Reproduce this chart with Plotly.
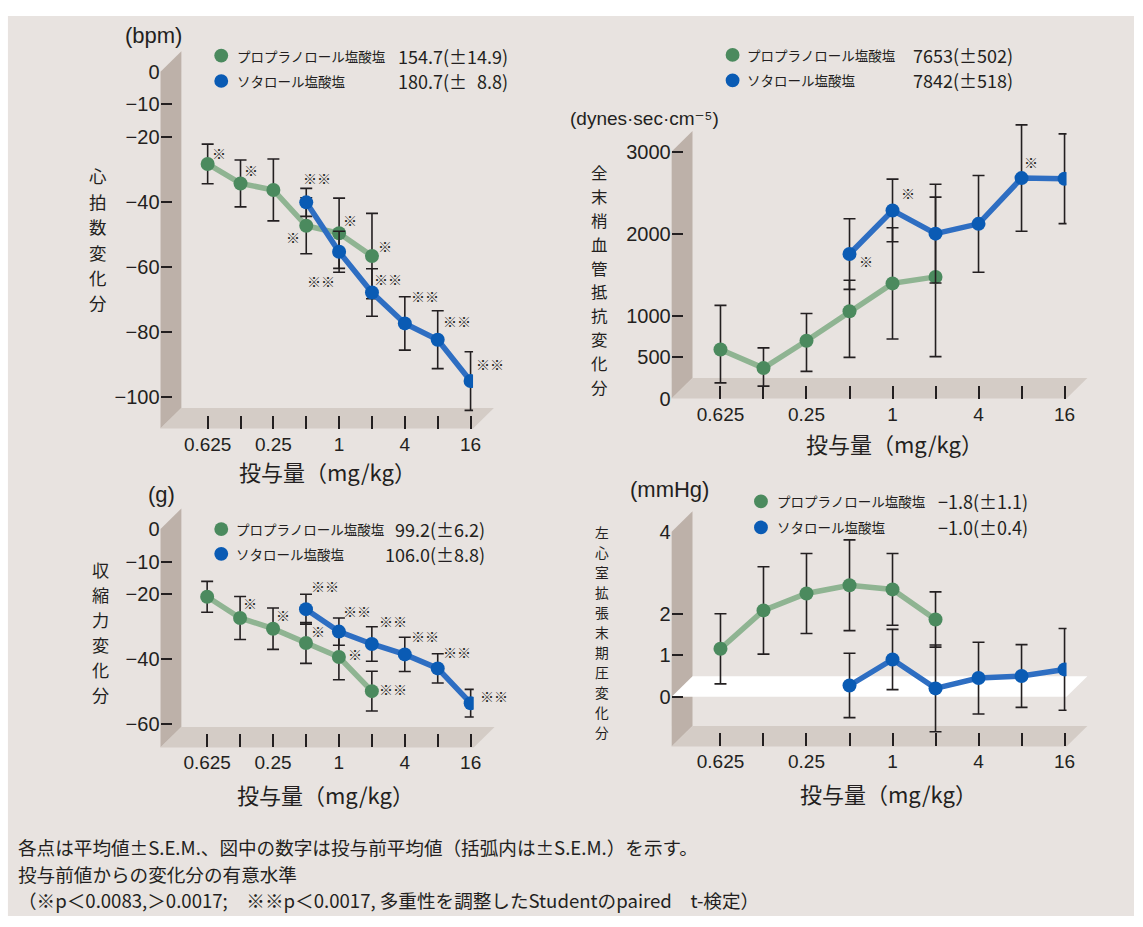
import plotly.graph_objects as go

# ---------------------------------------------------------------- data
dose_index = list(range(9))
dose_major = [0, 2, 4, 6, 8]
dose_minor = [1, 3, 5, 7]
dose_labels = ["0.625", "0.25", "1", "4", "16"]

drug_names = ["プロプラノロール塩酸塩", "ソタロール塩酸塩"]

# heart rate change (bpm)
hr_prop = [-28.3, -34.3, -36.3, -47.3, -49.6, -56.6, None, None, None]
hr_prop_sem = [6.1, 7.2, 9.5, 8.6, 10.8, 13.1, None, None, None]
hr_sota = [None, None, None, -40.1, -55.3, -67.8, -77.3, -82.3, -95.0]
hr_sota_sem = [None, None, None, 4.3, 6.3, 7.3, 8.2, 8.9, 9.0]
hr_prop_sig = ["※", "※", "", "※", "※", "※", "", "", ""]
hr_sota_sig = ["", "", "", "※※", "※※", "※※", "※※", "※※", "※※"]
hr_baseline = ["154.7(±14.9)", "180.7(±\u20078.8)"]
hr_ticks = [0, -10, -20, -40, -60, -80, -100]

# total peripheral resistance change (dynes·sec·cm-5)
tpr_prop = [596, 370, 703, 1061, 1399, 1478, None, None, None]
tpr_prop_up = [536, 246, 330, 377, 676, 969, None, None, None]
tpr_prop_down = [405, 219, 373, 560, 676, 969, None, None, None]
tpr_sota = [None, None, None, 1756, 2285, 2003, 2122, 2678, 2670]
tpr_sota_sem = [None, None, None, 429, 381, 600, 588, 646, 545]
tpr_prop_sig = ["", "", "", "", "", "", "", "", ""]
tpr_sota_sig = ["", "", "", "※", "※", "", "", "※", ""]
tpr_baseline = ["7653(±502)", "7842(±518)"]
tpr_ticks = [0, 500, 1000, 2000, 3000]

# contractile force change (g)
cf_prop = [-20.8, -27.3, -30.6, -35.0, -39.3, -49.8, None, None, None]
cf_prop_sem = [4.75, 6.6, 6.35, 6.25, 7.0, 6.1, None, None, None]
cf_sota = [None, None, None, -24.6, -31.5, -35.3, -38.5, -42.8, -53.5]
cf_sota_sem = [None, None, None, 4.6, 4.2, 5.3, 5.25, 4.5, 4.25]
cf_prop_sig = ["", "※", "※", "※", "※", "※※", "", "", ""]
cf_sota_sig = ["", "", "", "※※", "※※", "※※", "※※", "※※", "※※"]
cf_baseline = ["99.2(±6.2)", "106.0(±8.8)"]
cf_ticks = [0, -10, -20, -40, -60]

# left ventricular end-diastolic pressure change (mmHg)
lv_prop = [1.16, 2.09, 2.50, 2.70, 2.60, 1.87, None, None, None]
lv_prop_sem = [0.85, 1.06, 0.97, 1.10, 0.87, 0.67, None, None, None]
lv_sota = [None, None, None, 0.27, 0.90, 0.20, 0.45, 0.50, 0.66]
lv_sota_sem = [None, None, None, 0.78, 0.73, 1.05, 0.87, 0.76, 0.99]
lv_prop_sig = [""] * 9
lv_sota_sig = [""] * 9
lv_baseline = ["−1.8(±1.1)", "−1.0(±0.4)"]
lv_ticks = [0, 1, 2, 4]

footnotes = [
    "各点は平均値±S.E.M.、図中の数字は投与前平均値（括弧内は±S.E.M.）を示す。",
    "投与前値からの変化分の有意水準",
    "（※p＜0.0083,＞0.0017;\u3000※※p＜0.0017, 多重性を調整したStudentのpaired\u3000t-検定）",
]
dose_title = "投与量（mg/kg）"

# ---------------------------------------------------------------- style
W, H = 1143, 927
INK = "#231f20"
BG = "#e8e3e0"
WALL = "#bdb1a9"
FLOOR = "#d4ccc6"
GREEN = "#4b8a5e"
GREEN_LINE = "#8fb492"
BLUE = "#0a5bb4"
BLUE_LINE = "#2e6ec2"
JP = "Noto Sans CJK JP"
NUM = "Liberation Sans, DejaVu Sans, sans-serif"
DEPTH = 21


def fx(p):
    return p / W


def fy(p):
    return 1 - p / H


def minus(v):
    return str(v).replace("-", "−")


# pixel frame of each panel: plot domain, first dose position / spacing,
# and two (value, pixel) pairs fixing the vertical scale
panels = [
    dict(key="", left=161.8, right=476.8, top=62.3, bottom=427.7, wall_top=62.3,
         x0=209.3, step=33.125, cal=(0, 62.3, -100, 395.7),
         prop=hr_prop, prop_up=hr_prop_sem, prop_down=hr_prop_sem,
         sota=hr_sota, sota_sem=hr_sota_sem, prop_sig=hr_prop_sig, sota_sig=hr_sota_sig,
         ticks=hr_ticks, baseline=hr_baseline,
         unit="(bpm)", unit_xy=(155, 25), unit_size=22,
         title="心拍数変化分", title_x=99, title_y0=169, title_dy=26,
         legend=dict(dot=223, name=236.4, right=514, y=(45.7, 71.7)),
         xtitle=(330, 471), zero_plane=False,
         prop_off=[(11, -11), (10, -13), None, (-13, 11), (11, -13), (13, -10)],
         sota_off=[None, None, None, (11, -24), (-18, 29), (16, -14), (20, -27), (19, -19), (19, -17)]),
    dict(key="2", left=677, right=1075, top=100, bottom=397, wall_top=144,
         x0=726.2, step=43.35, cal=(0, 397, 3000, 144),
         prop=tpr_prop, prop_up=tpr_prop_up, prop_down=tpr_prop_down,
         sota=tpr_sota, sota_sem=tpr_sota_sem, prop_sig=tpr_prop_sig, sota_sig=tpr_sota_sig,
         ticks=tpr_ticks, baseline=tpr_baseline,
         unit="(dynes·sec·cm⁻⁵)", unit_xy=(650, 110), unit_size=19,
         title="全末梢血管抵抗変化分", title_x=604, title_y0=164.75, title_dy=24.5,
         legend=dict(dot=738.4, name=751.4, right=1022.8, y=(45, 71)),
         xtitle=(902, 443), zero_plane=False,
         prop_off=[None] * 9,
         sota_off=[None, None, None, (16, 7), (15, -17), None, None, (9, -16), None]),
    dict(key="3", left=161.8, right=477.5, top=530.7, bottom=754.3, wall_top=530.7,
         x0=208.8, step=33.2, cal=(0, 530.7, -60, 730.7),
         prop=cf_prop, prop_up=cf_prop_sem, prop_down=cf_prop_sem,
         sota=cf_sota, sota_sem=cf_sota_sem, prop_sig=cf_prop_sig, sota_sig=cf_sota_sig,
         ticks=cf_ticks, baseline=cf_baseline,
         unit="(g)", unit_xy=(162.5, 495), unit_size=22,
         title="収縮力変化分", title_x=101, title_y0=572.25, title_dy=25.5,
         legend=dict(dot=223, name=236, right=491, y=(530.7, 556)),
         xtitle=(328, 802), zero_plane=False,
         prop_off=[None, (10, -15), (10, -14), (12, -12), (16, -3), (21, -2)],
         sota_off=[None, None, None, (19, -23), (18, -21), (21, -23), (20, -18), (19, -16), (23, -7)]),
    dict(key="4", left=677, right=1075, top=533.3, bottom=753.3, wall_top=533.3,
         x0=726.2, step=43.35, cal=(0, 702.3, 4, 533.3),
         prop=lv_prop, prop_up=lv_prop_sem, prop_down=lv_prop_sem,
         sota=lv_sota, sota_sem=lv_sota_sem, prop_sig=lv_prop_sig, sota_sig=lv_sota_sig,
         ticks=lv_ticks, baseline=lv_baseline,
         unit="(mmHg)", unit_xy=(675, 490), unit_size=22,
         title="左心室拡張末期圧変化分", title_x=607, title_y0=534, title_dy=20.5,
         legend=dict(dot=767, name=781, right=1037.7, y=(502.3, 529)),
         xtitle=(896, 801), zero_plane=True,
         prop_off=[None] * 9, sota_off=[None] * 9),
]

fig = go.Figure()
shapes = []
annotations = []
layout_axes = {}


def add_text(x, y, s, size, family=JP, xanchor="center", yanchor="middle", **kw):
    annotations.append(dict(x=fx(x), y=fy(y), xref="paper", yref="paper", text=s,
                            showarrow=False, xanchor=xanchor, yanchor=yanchor,
                            font=dict(family=family, size=size, color=INK), **kw))


def poly(points, color):
    path = "M " + " L ".join(f"{fx(a):.5f},{fy(b):.5f}" for a, b in points) + " Z"
    shapes.append(dict(type="path", path=path, xref="paper", yref="paper",
                       fillcolor=color, line=dict(width=0), layer="below"))


# page background
shapes.append(dict(type="rect", xref="paper", yref="paper", x0=fx(8), x1=1, y0=0, y1=fy(5),
                   fillcolor=BG, line=dict(width=0), layer="below"))

tick_style = dict(ticks="inside", tickwidth=1.7, tickcolor=INK)

for p in panels:
    k = p["key"]
    L, R, T, B = p["left"], p["right"], p["top"], p["bottom"]
    v0, p0, v1, p1 = p["cal"]

    def val(pix):
        return v0 + (pix - p0) * (v1 - v0) / (p1 - p0)

    xr = [(L - p["x0"]) / p["step"], (R - p["x0"]) / p["step"]]
    yr = [val(B), val(T)]

    layout_axes[f"xaxis{k}"] = dict(
        domain=[fx(L), fx(R)], range=xr, anchor=f"y{k}",
        tickmode="array", tickvals=dose_major, ticktext=dose_labels, ticklen=13,
        minor=dict(tickvals=dose_minor, ticklen=13, showgrid=False, **tick_style),
        showgrid=False, zeroline=False, showline=False, ticklabelstandoff=2,
        tickfont=dict(family=NUM, size=19, color=INK), fixedrange=True, **tick_style)
    layout_axes[f"yaxis{k}"] = dict(
        domain=[fy(B), fy(T)], range=yr, anchor=f"x{k}",
        tickmode="array", tickvals=p["ticks"], ticktext=[minus(t) for t in p["ticks"]],
        ticklen=11, showgrid=False, zeroline=False, showline=False,
        tickfont=dict(family=NUM, size=20, color=INK), fixedrange=True, **tick_style)

    # side wall, floor and (optionally) the zero plane
    wt = p["wall_top"]
    poly([(L, wt), (L + DEPTH, wt - DEPTH), (L + DEPTH, B - DEPTH), (L, B)], WALL)
    poly([(L, B), (L + DEPTH, B - DEPTH), (R + DEPTH, B - DEPTH), (R, B)], FLOOR)
    if p["zero_plane"]:
        zp = p0
        poly([(L, zp), (L + DEPTH, zp - DEPTH), (R + DEPTH, zp - DEPTH), (R, zp)], "#ffffff")

    # series
    err = dict(color=INK, thickness=1.6, width=6, visible=True)
    fig.add_trace(go.Scatter(
        x=dose_index, y=p["prop"], mode="lines+markers", xaxis=f"x{k}", yaxis=f"y{k}",
        line=dict(color=GREEN_LINE, width=5.5), marker=dict(size=14, color=GREEN),
        error_y=dict(type="data", symmetric=False, array=p["prop_up"],
                     arrayminus=p["prop_down"], **err),
        hoverinfo="skip", name=drug_names[0]))
    fig.add_trace(go.Scatter(
        x=dose_index, y=p["sota"], mode="lines+markers", xaxis=f"x{k}", yaxis=f"y{k}",
        line=dict(color=BLUE_LINE, width=5.5), marker=dict(size=14, color=BLUE),
        error_y=dict(type="data", array=p["sota_sem"], **err),
        hoverinfo="skip", name=drug_names[1]))

    # significance marks
    for series, sig, off in ((p["prop"], p["prop_sig"], p["prop_off"]),
                             (p["sota"], p["sota_sig"], p["sota_off"])):
        for i, s in enumerate(sig):
            if s and series[i] is not None and i < len(off) and off[i]:
                annotations.append(dict(
                    x=dose_index[i], y=series[i], xref=f"x{k}", yref=f"y{k}", text=s,
                    showarrow=False, xshift=off[i][0], yshift=-off[i][1],
                    font=dict(family=JP, size=14, color=INK)))

    # legend
    lg = p["legend"]
    for j, (colour, name, base) in enumerate(zip((GREEN, BLUE), drug_names, p["baseline"])):
        cy = lg["y"][j]
        shapes.append(dict(type="circle", xref="paper", yref="paper",
                           x0=fx(lg["dot"] - 7), x1=fx(lg["dot"] + 7),
                           y0=fy(cy + 7), y1=fy(cy - 7), fillcolor=colour,
                           line=dict(width=0)))
        add_text(lg["name"], cy, name, 13.5, xanchor="left")
        add_text(lg["right"], cy, base, 18, xanchor="right")

    # unit, vertical title (stacked characters), dose title
    ux, uy = p["unit_xy"]
    add_text(ux, uy, p["unit"], p["unit_size"], family=NUM)
    ch_size = (p["title_dy"] - 0.6) / 1.45
    for i, ch in enumerate(p["title"]):
        add_text(p["title_x"], p["title_y0"] + i * p["title_dy"], ch, ch_size, borderpad=0)
    add_text(p["xtitle"][0], p["xtitle"][1], dose_title, 22)

for i, line in enumerate(footnotes):
    add_text(17, 855.5 + i * 27.5, line, 18.6, xanchor="left", borderpad=0)

fig.update_layout(
    width=W, height=H, autosize=False, margin=dict(l=0, r=0, t=0, b=0),
    paper_bgcolor="#ffffff", plot_bgcolor="rgba(0,0,0,0)", showlegend=False,
    shapes=shapes, annotations=annotations, **layout_axes)

fig.write_html("out.html", config={"displayModeBar": False})
